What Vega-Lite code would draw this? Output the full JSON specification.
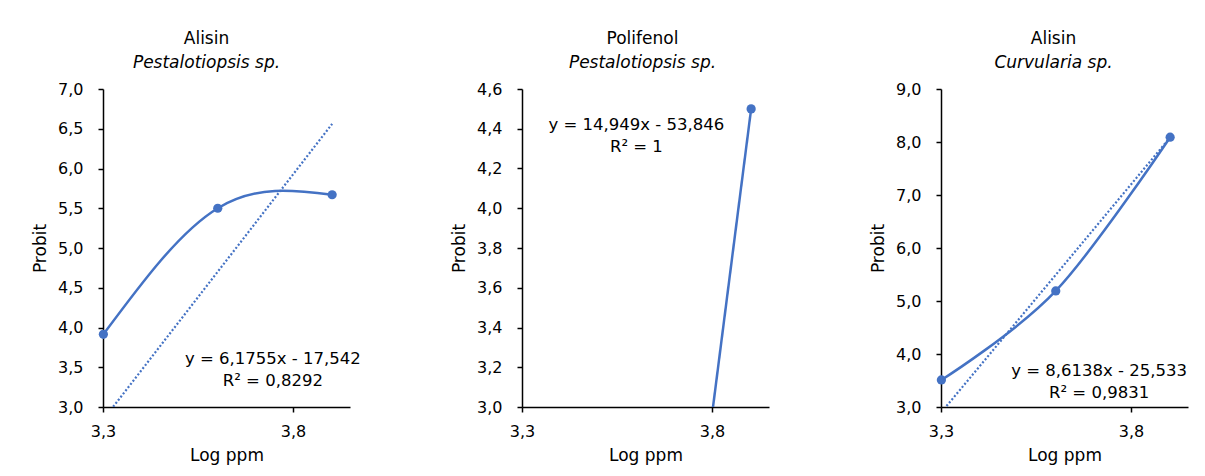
{
  "$schema": "https://vega.github.io/schema/vega-lite/v6.json",
  "padding": {"left": 31, "top": 30, "right": 5, "bottom": 10},
  "background": "white",
  "spacing": 172,
  "bounds": "flush",
  "config": {
    "locale": {"number": {"decimal": ",", "thousands": ".", "grouping": [3], "currency": ["", " €"]}},
    "font": "DejaVu Sans",
    "view": {"stroke": null},
    "axis": {
      "domainColor": "#000", "domainWidth": 1.5, "tickColor": "#000", "tickWidth": 1.5, "tickSize": 5,
      "labelFont": "DejaVu Sans", "labelFontSize": 16, "labelColor": "#000", "labelFlush": false,
      "titleFont": "DejaVu Sans", "titleFontSize": 17, "titleFontWeight": "normal", "titleColor": "#000",
      "grid": false
    },
    "axisY": {"labelPadding": 15, "titlePadding": 8},
    "axisX": {"labelPadding": 11, "titlePadding": 8},
    "title": {
      "font": "DejaVu Sans", "fontSize": 17, "fontWeight": "normal", "color": "#000",
      "subtitleFont": "DejaVu Sans", "subtitleFontSize": 17, "subtitleFontStyle": "italic", "subtitleColor": "#000",
      "subtitlePadding": 7, "offset": 9, "anchor": "middle"
    }
  },
  "hconcat": [
    {
      "width": 247, "height": 318,
      "title": {"text": "Alisin", "subtitle": "Pestalotiopsis sp.", "dx": -20},
      "encoding": {
        "x": {"field": "x", "type": "quantitative", "scale": {"domain": [3.3, 3.95], "nice": false, "zero": false},
              "axis": {"values": [3.3, 3.8], "format": ".1f", "title": "Log ppm"}},
        "y": {"field": "y", "type": "quantitative", "scale": {"domain": [3, 7], "nice": false, "zero": false},
              "axis": {"values": [3, 3.5, 4, 4.5, 5, 5.5, 6, 6.5, 7], "format": ".1f", "title": "Probit"}}
      },
      "layer": [
        {
          "data": {"values": [{"x": 3.301, "y": 2.8435}, {"x": 3.903, "y": 6.561}]},
          "mark": {"type": "line", "clip": true, "color": "#4472C4", "strokeDash": [2, 2], "strokeWidth": 2.2}
        },
        {
          "data": {"values": [{"x": 3.301, "y": 3.914}, {"x": 3.602, "y": 5.5}, {"x": 3.903, "y": 5.67}]},
          "mark": {"type": "line", "interpolate": "natural", "color": "#4472C4", "strokeWidth": 2.5}
        },
        {
          "data": {"values": [{"x": 3.301, "y": 3.914}, {"x": 3.602, "y": 5.5}, {"x": 3.903, "y": 5.67}]},
          "mark": {"type": "point", "filled": true, "size": 85, "opacity": 1, "color": "#4472C4"}
        },
        {
          "data": {"values": [{"x": 3.747, "y": 3.6, "label": "y = 6,1755x - 17,542"}, {"x": 3.747, "y": 3.33, "label": "R² = 0,8292"}]},
          "mark": {"type": "text", "fontSize": 16.5, "color": "#000", "baseline": "middle", "align": "center"},
          "encoding": {"text": {"field": "label"}}
        }
      ]
    },
    {
      "width": 247, "height": 318,
      "title": {"text": "Polifenol", "subtitle": "Pestalotiopsis sp.", "dx": -3},
      "encoding": {
        "x": {"field": "x", "type": "quantitative", "scale": {"domain": [3.3, 3.95], "nice": false, "zero": false},
              "axis": {"values": [3.3, 3.8], "format": ".1f", "title": "Log ppm"}},
        "y": {"field": "y", "type": "quantitative", "scale": {"domain": [3, 4.6], "nice": false, "zero": false},
              "axis": {"values": [3, 3.2, 3.4, 3.6, 3.8, 4, 4.2, 4.4, 4.6], "format": ".1f", "title": "Probit"}}
      },
      "layer": [
        {
          "data": {"values": [{"x": 3.602, "y": 0}, {"x": 3.903, "y": 4.5}]},
          "mark": {"type": "line", "clip": true, "color": "#4472C4", "strokeWidth": 2.5}
        },
        {
          "data": {"values": [{"x": 3.602, "y": 0}, {"x": 3.903, "y": 4.5}]},
          "mark": {"type": "point", "clip": true, "filled": true, "size": 85, "opacity": 1, "color": "#4472C4"}
        },
        {
          "data": {"values": [{"x": 3.601, "y": 4.42, "label": "y = 14,949x - 53,846"}, {"x": 3.601, "y": 4.31, "label": "R² = 1"}]},
          "mark": {"type": "text", "fontSize": 16.5, "color": "#000", "baseline": "middle", "align": "center"},
          "encoding": {"text": {"field": "label"}}
        }
      ]
    },
    {
      "width": 247, "height": 318,
      "title": {"text": "Alisin", "subtitle": "Curvularia sp.", "dx": -11},
      "encoding": {
        "x": {"field": "x", "type": "quantitative", "scale": {"domain": [3.3, 3.95], "nice": false, "zero": false},
              "axis": {"values": [3.3, 3.8], "format": ".1f", "title": "Log ppm"}},
        "y": {"field": "y", "type": "quantitative", "scale": {"domain": [3, 9], "nice": false, "zero": false},
              "axis": {"values": [3, 4, 5, 6, 7, 8, 9], "format": ".1f", "title": "Probit"}}
      },
      "layer": [
        {
          "data": {"values": [{"x": 3.301, "y": 2.9014}, {"x": 3.903, "y": 8.0867}]},
          "mark": {"type": "line", "clip": true, "color": "#4472C4", "strokeDash": [2, 2], "strokeWidth": 2.2}
        },
        {
          "data": {"values": [{"x": 3.301, "y": 3.51}, {"x": 3.602, "y": 5.19}, {"x": 3.903, "y": 8.09}]},
          "mark": {"type": "line", "interpolate": "cardinal", "color": "#4472C4", "strokeWidth": 2.5}
        },
        {
          "data": {"values": [{"x": 3.301, "y": 3.51}, {"x": 3.602, "y": 5.19}, {"x": 3.903, "y": 8.09}]},
          "mark": {"type": "point", "filled": true, "size": 85, "opacity": 1, "color": "#4472C4"}
        },
        {
          "data": {"values": [{"x": 3.716, "y": 3.68, "label": "y = 8,6138x - 25,533"}, {"x": 3.716, "y": 3.27, "label": "R² = 0,9831"}]},
          "mark": {"type": "text", "fontSize": 16.5, "color": "#000", "baseline": "middle", "align": "center"},
          "encoding": {"text": {"field": "label"}}
        }
      ]
    }
  ]
}
